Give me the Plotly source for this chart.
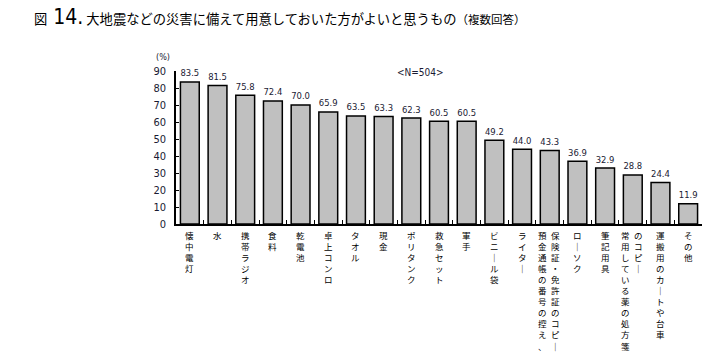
import plotly.graph_objects as go

categories = ["懐中電灯", "水", "携帯ラジオ", "食料", "乾電池", "卓上コンロ", "タオル", "現金",
              "ポリタンク", "救急セット", "軍手", "ビニール袋", "ライター",
              "保険証・免許証のコピー、預金通帳の番号の控え", "ローソク", "筆記用具",
              "常用している薬の処方箋のコピー", "運搬用のカートや台車", "その他"]
values = [83.5, 81.5, 75.8, 72.4, 70.0, 65.9, 63.5, 63.3, 62.3, 60.5, 60.5,
          49.2, 44.0, 43.3, 36.9, 32.9, 28.8, 24.4, 11.9]
# displayed label columns (left column first)
label_columns = [["懐中電灯"], ["水"], ["携帯ラジオ"], ["食料"], ["乾電池"], ["卓上コンロ"],
                 ["タオル"], ["現金"], ["ポリタンク"], ["救急セット"], ["軍手"], ["ビニール袋"],
                 ["ライター"], ["預金通帳の番号の控え、", "保険証・免許証のコピー"], ["ローソク"],
                 ["筆記用具"], ["常用している薬の処方箋", "のコピー"], ["運搬用のカートや台車"], ["その他"]]
y_ticks = [0, 10, 20, 30, 40, 50, 60, 70, 80, 90]

NUM_FONT = "Liberation Sans Narrow, DejaVu Sans Condensed, Arial Narrow, sans-serif"
JP_FONT = "Noto Sans CJK JP, sans-serif"

fig = go.Figure()
fig.add_trace(go.Bar(
    x=categories, y=values,
    width=0.68,
    marker=dict(color="#c0c0c0", line=dict(color="#000000", width=1.5)),
    text=[f"{v:.1f}" for v in values],
    textposition="outside",
    textfont=dict(family=NUM_FONT, size=11, color="#1a1a33"),
    cliponaxis=False,
    hoverinfo="skip",
))


def vert(s):
    return "<br>".join(("｜" if ch == "ー" else ch) for ch in s)


annotations = []
for cat, cols in zip(categories, label_columns):
    n = len(cols)
    for j, col in enumerate(cols):
        shift = 0 if n == 1 else (-7 if j == 0 else 6)
        annotations.append(dict(
            x=cat, xref="x", y=0, yref="paper", yanchor="top", xanchor="center",
            yshift=-4, xshift=shift, showarrow=False, align="center",
            text=vert(col), borderpad=0,
            font=dict(family=JP_FONT, size=8.5, color="#000000"),
        ))

annotations.append(dict(
    x=0, xref="paper", xanchor="left", xshift=-22, y=1, yref="paper", yanchor="bottom", yshift=7,
    showarrow=False, text="(%)", font=dict(family=NUM_FONT, size=9, color="#1a1a33")))
annotations.append(dict(
    x=0.5, xref="paper", xanchor="center", xshift=-19, y=1, yref="paper", yanchor="bottom", yshift=-9,
    showarrow=False, text="&lt;N=504&gt;", font=dict(family=NUM_FONT, size=10, color="#1a1a33")))
annotations.append(dict(
    x=0, xref="paper", xanchor="left", xshift=-144, y=1, yref="paper", yanchor="middle", yshift=54,
    showarrow=False,
    text=("図  <span style='font-family:" + NUM_FONT + ";font-size:21px'>14.</span> "
          "大地震などの災害に備えて用意しておいた方がよいと思うもの"
          "<span style='font-size:11.5px'>（複数回答）</span>"),
    font=dict(family=JP_FONT, size=13.3, color="#000000")))

fig.update_layout(
    width=725, height=352,
    margin=dict(l=176, r=23, t=71, b=128),
    paper_bgcolor="white", plot_bgcolor="white",
    showlegend=False,
    bargap=0.32,
    annotations=annotations,
    xaxis=dict(
        type="category", showticklabels=False,
        showline=True, linecolor="#000000", linewidth=1.5,
        ticks="inside", tickson="boundaries", ticklen=4, tickcolor="#000000", tickwidth=1,
        showgrid=False, zeroline=False,
    ),
    yaxis=dict(
        range=[0, 90], tickvals=y_ticks, ticktext=[str(v) for v in y_ticks],
        showline=True, linecolor="#000000", linewidth=1.5,
        ticks="inside", ticklen=3, tickcolor="#000000",
        showgrid=False, zeroline=False,
        tickfont=dict(family=NUM_FONT, size=11, color="#1a1a33"),
        ticklabelstandoff=6,
    ),
)

fig.write_html("out.html")
